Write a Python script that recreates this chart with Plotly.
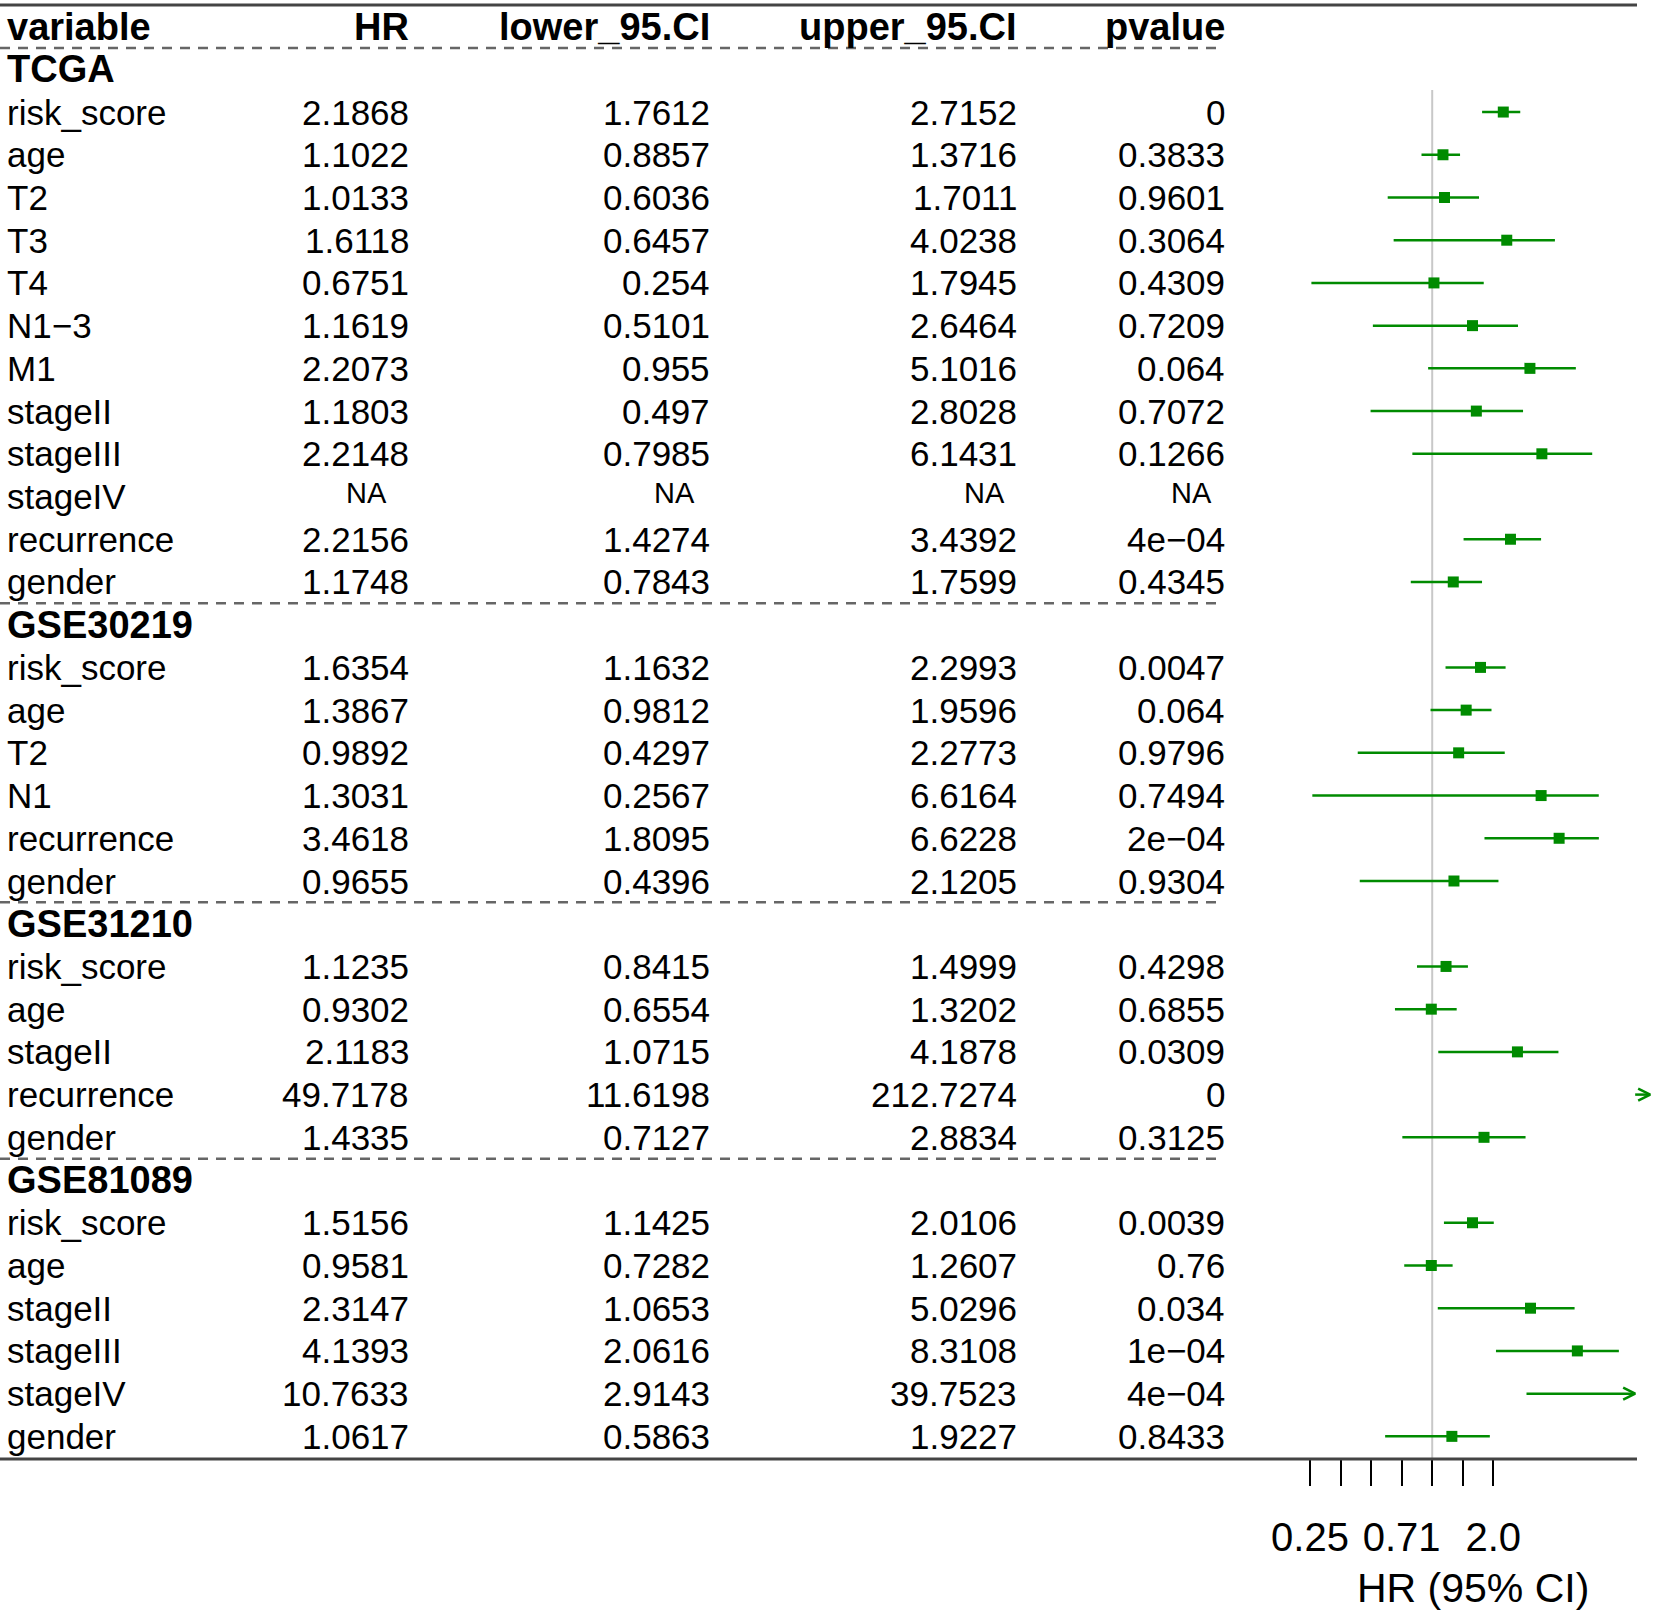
import math
import plotly.graph_objects as go

# ---------------- data ----------------
columns = ["variable", "HR", "lower_95.CI", "upper_95.CI", "pvalue"]
groups = ["TCGA", "GSE30219", "GSE31210", "GSE81089"]
group_sizes = [11, 6, 5, 6]
MINUS = "\u2212"
variables = [
    "risk_score", "age", "T2", "T3", "T4", "N1" + MINUS + "3", "M1", "stageII", "stageIII", "stageIV", "recurrence", "gender",
    "risk_score", "age", "T2", "N1", "recurrence", "gender",
    "risk_score", "age", "stageII", "recurrence", "gender",
    "risk_score", "age", "stageII", "stageIII", "stageIV", "gender",
]
hr = [2.1868, 1.1022, 1.0133, 1.6118, 0.6751, 1.1619, 2.2073, 1.1803, 2.2148, None, 2.2156, 1.1748,
      1.6354, 1.3867, 0.9892, 1.3031, 3.4618, 0.9655,
      1.1235, 0.9302, 2.1183, 49.7178, 1.4335,
      1.5156, 0.9581, 2.3147, 4.1393, 10.7633, 1.0617]
lower = [1.7612, 0.8857, 0.6036, 0.6457, 0.254, 0.5101, 0.955, 0.497, 0.7985, None, 1.4274, 0.7843,
         1.1632, 0.9812, 0.4297, 0.2567, 1.8095, 0.4396,
         0.8415, 0.6554, 1.0715, 11.6198, 0.7127,
         1.1425, 0.7282, 1.0653, 2.0616, 2.9143, 0.5863]
upper = [2.7152, 1.3716, 1.7011, 4.0238, 1.7945, 2.6464, 5.1016, 2.8028, 6.1431, None, 3.4392, 1.7599,
         2.2993, 1.9596, 2.2773, 6.6164, 6.6228, 2.1205,
         1.4999, 1.3202, 4.1878, 212.7274, 2.8834,
         2.0106, 1.2607, 5.0296, 8.3108, 39.7523, 1.9227]
pvalue = ["0", "0.3833", "0.9601", "0.3064", "0.4309", "0.7209", "0.064", "0.7072", "0.1266", "NA", "4e" + MINUS + "04", "0.4345",
          "0.0047", "0.064", "0.9796", "0.7494", "2e" + MINUS + "04", "0.9304",
          "0.4298", "0.6855", "0.0309", "0", "0.3125",
          "0.0039", "0.76", "0.034", "1e" + MINUS + "04", "4e" + MINUS + "04", "0.8433"]
# box positions as drawn in the picture
box_x = [2.24, 1.13, 1.15, 2.33, 1.02, 1.58, 3.03, 1.65, 3.47, None, 2.43, 1.27,
         1.73, 1.47, 1.35, 3.44, 4.22, 1.28,
         1.17, 0.99, 2.63, None, 1.80,
         1.58, 0.99, 3.05, 5.19, None, 1.25]
tick_vals = [0.25, 0.35355, 0.5, 0.70711, 1, 1.41421, 2]
tick_text = ["0.25", "", "", "0.71", "", "", "2.0"]
clip_hi = 10
x_title = "HR (95% CI)"

# ---------------- layout constants (pixels) ----------------
W, H = 1654, 1614
ROW0_PX = 26.6
ROW_PX = 42.72
BOTTOM_PX = 1459
XD0_PX = 1240
X1_PX = 1432.2
PX_PER_LOG2 = 61.1
FONT = "Liberation Sans, Arial, sans-serif"
GREEN = "#008B00"

def px2row(py):
    return (py - ROW0_PX) / ROW_PX

def xpaper(px):
    return px / W

def ypaper(py):
    return 1 - py / H

# row indices
rows = []
group_rows = []
r = 1
for g, n in zip(groups, group_sizes):
    group_rows.append(r)
    r += 1
    for _ in range(n + (1 if g == "TCGA" else 0)):
        rows.append(r)
        r += 1

def fmt(v):
    return "NA" if v is None else str(v)

annotations = []
col_right_px = [None, 411, 712, 1019, 1227]
na_center_px = [None, 366, 674, 984, 1191]
annotations.append(dict(x=xpaper(5), y=0, xref="paper", yref="y", xanchor="left", yanchor="middle",
                        text="<b>" + columns[0] + "</b>", showarrow=False, font=dict(size=38, family=FONT, color="black")))
for c in range(1, 5):
    annotations.append(dict(x=xpaper(col_right_px[c]), y=0, xref="paper", yref="y", xanchor="right", yanchor="middle",
                            text="<b>" + columns[c] + "</b>", showarrow=False, font=dict(size=38, family=FONT, color="black")))
for g, gr in zip(groups, group_rows):
    annotations.append(dict(x=xpaper(5), y=gr, xref="paper", yref="y", xanchor="left", yanchor="middle",
                            text="<b>" + g + "</b>", showarrow=False, font=dict(size=38, family=FONT, color="black")))
for i, rr in enumerate(rows):
    annotations.append(dict(x=xpaper(5), y=rr, xref="paper", yref="y", xanchor="left", yanchor="middle",
                            text=variables[i], showarrow=False, font=dict(size=35, family=FONT, color="black")))
    vals = [fmt(hr[i]), fmt(lower[i]), fmt(upper[i]), pvalue[i]]
    for c, t in enumerate(vals, start=1):
        if t == "NA":
            annotations.append(dict(x=xpaper(na_center_px[c]), y=rr - 0.09, xref="paper", yref="y", xanchor="center",
                                    yanchor="middle", text=t, showarrow=False, font=dict(size=29, family=FONT, color="black")))
        else:
            annotations.append(dict(x=xpaper(col_right_px[c]), y=rr, xref="paper", yref="y", xanchor="right",
                                    yanchor="middle", text=t, showarrow=False, font=dict(size=35, family=FONT, color="black")))
annotations.append(dict(x=xpaper(1473), y=ypaper(1587.5), xref="paper", yref="paper", xanchor="center", yanchor="middle",
                        text=x_title, showarrow=False, font=dict(size=41, family=FONT, color="black")))

fig = go.Figure()
# reference line at HR = 1
fig.add_trace(go.Scatter(x=[1, 1], y=[px2row(90), px2row(BOTTOM_PX)], mode="lines",
                         line=dict(color="#c8c8c8", width=2), hoverinfo="skip", showlegend=False))

# CI lines and arrows
ci_x, ci_y, ar_x, ar_y = [], [], [], []
back = 2 ** (-12 / PX_PER_LOG2)
dy = 6 / ROW_PX
for i, rr in enumerate(rows):
    lo, hi = lower[i], upper[i]
    if lo is None:
        continue
    if lo < clip_hi:
        ci_x += [lo, min(hi, clip_hi), None]
        ci_y += [rr, rr, None]
        if hi > clip_hi:
            tip = clip_hi
            ar_x += [tip * back, tip, tip * back, None]
            ar_y += [rr - dy, rr, rr + dy, None]
    else:
        tip = clip_hi * 2 ** (15 / PX_PER_LOG2)
        ci_x += [clip_hi, tip, None]
        ci_y += [rr, rr, None]
        ar_x += [tip * back, tip, tip * back, None]
        ar_y += [rr - dy, rr, rr + dy, None]

fig.add_trace(go.Scatter(x=ci_x, y=ci_y, mode="lines", line=dict(color=GREEN, width=2.5),
                         hoverinfo="skip", showlegend=False))
fig.add_trace(go.Scatter(x=ar_x, y=ar_y, mode="lines", line=dict(color=GREEN, width=2.5),
                         hoverinfo="skip", showlegend=False))
fig.add_trace(go.Scatter(x=box_x, y=rows, mode="markers",
                         marker=dict(symbol="square", size=11, color=GREEN, line=dict(width=0)),
                         hoverinfo="skip", showlegend=False))

shapes = [
    dict(type="line", xref="paper", yref="paper", x0=0, x1=xpaper(1637), y0=ypaper(5), y1=ypaper(5),
         line=dict(color="#444444", width=3)),
    dict(type="line", xref="paper", yref="paper", x0=0, x1=xpaper(1637), y0=ypaper(BOTTOM_PX), y1=ypaper(BOTTOM_PX),
         line=dict(color="#444444", width=3)),
]
for yb in [0.5] + [gr - 0.5 for gr in group_rows[1:]]:
    shapes.append(dict(type="line", xref="paper", yref="y", x0=0, x1=xpaper(1224), y0=yb, y1=yb,
                       line=dict(color="#666666", width=2.5, dash="10px,8px")))

l2 = math.log10(2)
fig.update_layout(
    width=W, height=H, autosize=False,
    margin=dict(l=0, r=0, t=0, b=0, pad=0),
    paper_bgcolor="white", plot_bgcolor="rgba(0,0,0,0)",
    annotations=annotations, shapes=shapes,
    xaxis=dict(type="log", domain=[xpaper(XD0_PX), 1],
               range=[l2 * (XD0_PX - X1_PX) / PX_PER_LOG2, l2 * (W - X1_PX) / PX_PER_LOG2],
               showgrid=False, zeroline=False, showline=False,
               ticks="outside", ticklen=26, tickwidth=2, tickcolor="black",
               tickvals=tick_vals, ticktext=tick_text, ticklabelstandoff=17,
               tickfont=dict(size=40, family=FONT, color="black")),
    yaxis=dict(domain=[ypaper(BOTTOM_PX), 1], range=[px2row(BOTTOM_PX), px2row(0)],
               visible=False, showgrid=False, zeroline=False),
    showlegend=False,
)

fig.write_html("out.html", config={"displayModeBar": False},
               post_script="document.body.style.margin='0';")
